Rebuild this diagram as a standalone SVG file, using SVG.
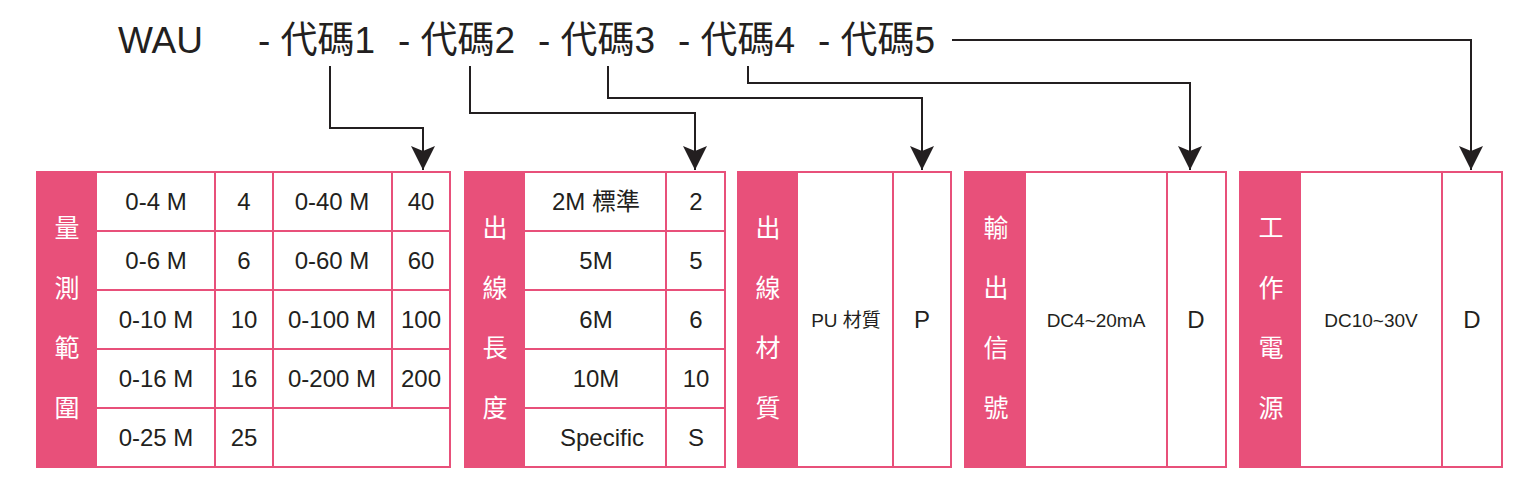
<svg xmlns="http://www.w3.org/2000/svg" width="1536" height="484" viewBox="0 0 1536 484">
<style>
.t{font-family:"Liberation Sans","Noto Sans CJK TC",sans-serif;font-size:24px;fill:#231f20;text-anchor:middle}
.s{font-size:19px}
.h{font-family:"Liberation Sans","Noto Sans CJK TC",sans-serif;font-size:37px;fill:#231f20}
.v{font-family:"Noto Sans CJK TC",sans-serif;font-size:25px;fill:#fff;text-anchor:middle}
.b{fill:#fff;stroke:#e8507a;stroke-width:2}
.p{fill:#e8507a}
.l{stroke:#e8507a;stroke-width:2}
.c{fill:none;stroke:#231f20;stroke-width:2}
</style>
<defs><marker id="a" markerWidth="24" markerHeight="28" refX="24" refY="12" orient="auto" markerUnits="userSpaceOnUse"><path d="M0,0 L24,12 L0,24 L5,12 Z" fill="#231f20"/></marker></defs>
<g id="title"><text class="h" x="118" y="53">WAU</text>
<text class="h" x="258" y="53">- 代碼1</text><text class="h" x="398" y="53">- 代碼2</text><text class="h" x="538" y="53">- 代碼3</text><text class="h" x="678" y="53">- 代碼4</text><text class="h" x="818" y="53">- 代碼5</text></g>
<g id="connectors">
<path class="c" d="M330,66 V128 H423 V170" marker-end="url(#a)"/>
<path class="c" d="M470,66 V113 H695 V170" marker-end="url(#a)"/>
<path class="c" d="M608,66 V98 H922 V170" marker-end="url(#a)"/>
<path class="c" d="M748,66 V83 H1190 V170" marker-end="url(#a)"/>
<path class="c" d="M952,40 H1471 V170" marker-end="url(#a)"/>
</g>
<g id="range">
<rect class="b" x="37" y="172" width="413" height="295"/><rect class="p" x="37" y="172" width="60" height="295"/>
<path class="l" d="M97,231H450M97,290H450M97,349H450M97,408H450M215,172V467M273,172V467M392,172V408"/>
<text class="v" x="67" y="237">量</text><text class="v" x="67" y="297">測</text><text class="v" x="67" y="357">範</text><text class="v" x="67" y="417">圍</text>
<g class="t">
<text x="156" y="210">0-4 M</text><text x="244" y="210">4</text><text x="332" y="210">0-40 M</text><text x="421" y="210">40</text>
<text x="156" y="269">0-6 M</text><text x="244" y="269">6</text><text x="332" y="269">0-60 M</text><text x="421" y="269">60</text>
<text x="156" y="328">0-10 M</text><text x="244" y="328">10</text><text x="332" y="328">0-100 M</text><text x="421" y="328">100</text>
<text x="156" y="387">0-16 M</text><text x="244" y="387">16</text><text x="332" y="387">0-200 M</text><text x="421" y="387">200</text>
<text x="156" y="446">0-25 M</text><text x="244" y="446">25</text></g>
</g>
<g id="length">
<rect class="b" x="465" y="172" width="260" height="295"/><rect class="p" x="465" y="172" width="60" height="295"/>
<path class="l" d="M525,231H725M525,290H725M525,349H725M525,408H725M666,172V467"/>
<text class="v" x="495" y="237">出</text><text class="v" x="495" y="297">線</text><text class="v" x="495" y="357">長</text><text class="v" x="495" y="417">度</text>
<g class="t"><text x="596" y="210">2M 標準</text><text x="696" y="210">2</text>
<text x="596" y="269">5M</text><text x="696" y="269">5</text>
<text x="596" y="328">6M</text><text x="696" y="328">6</text>
<text x="596" y="387">10M</text><text x="696" y="387">10</text>
<text x="602" y="446">Specific</text><text x="696" y="446">S</text></g>
</g>
<g id="material">
<rect class="b" x="738" y="172" width="213" height="295"/><rect class="p" x="738" y="172" width="60" height="295"/>
<path class="l" d="M893,172V467"/>
<text class="v" x="768" y="237">出</text><text class="v" x="768" y="297">線</text><text class="v" x="768" y="357">材</text><text class="v" x="768" y="417">質</text>
<text class="t s" x="846" y="327">PU 材質</text><text class="t" x="922" y="328">P</text>
</g>
<g id="output">
<rect class="b" x="965" y="172" width="261" height="295"/><rect class="p" x="965" y="172" width="61" height="295"/>
<path class="l" d="M1167,172V467"/>
<text class="v" x="996" y="237">輸</text><text class="v" x="996" y="297">出</text><text class="v" x="996" y="357">信</text><text class="v" x="996" y="417">號</text>
<text class="t s" x="1096" y="327">DC4~20mA</text><text class="t" x="1196" y="328">D</text>
</g>
<g id="power">
<rect class="b" x="1240" y="172" width="262" height="295"/><rect class="p" x="1240" y="172" width="61" height="295"/>
<path class="l" d="M1442,172V467"/>
<text class="v" x="1271" y="237">工</text><text class="v" x="1271" y="297">作</text><text class="v" x="1271" y="357">電</text><text class="v" x="1271" y="417">源</text>
<text class="t s" x="1371" y="327">DC10~30V</text><text class="t" x="1472" y="328">D</text>
</g>
</svg>
